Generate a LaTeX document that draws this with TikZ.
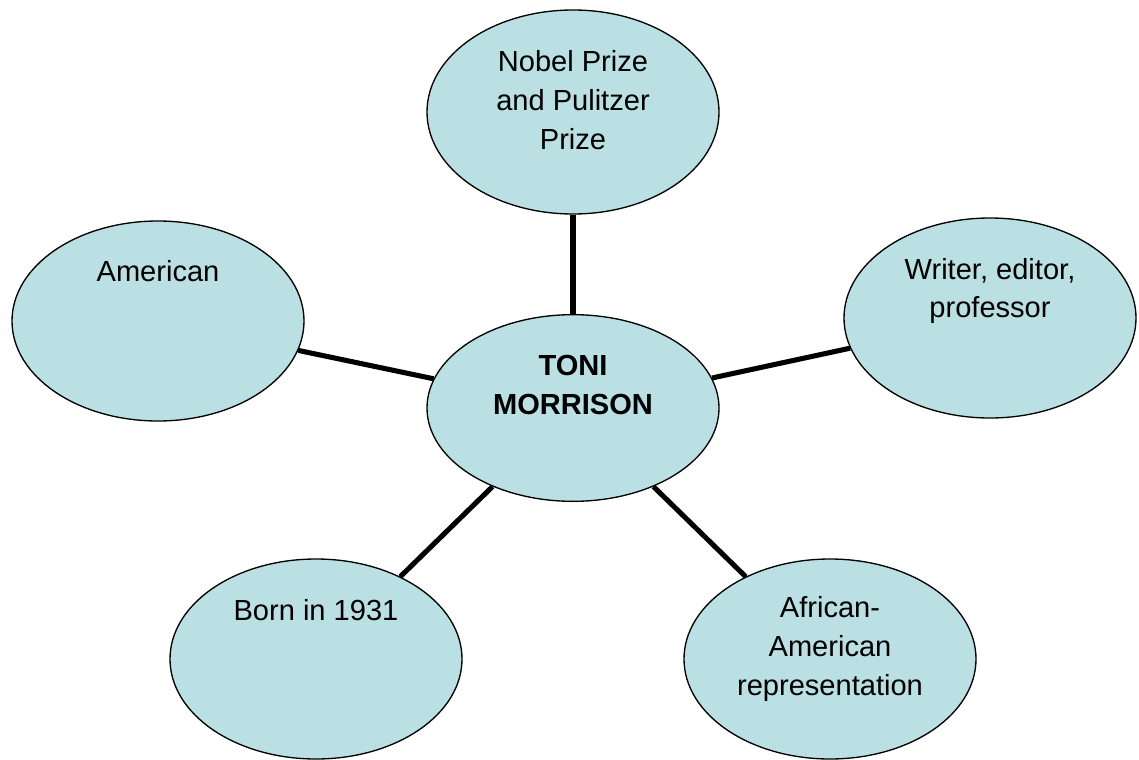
\documentclass[tikz,border=0pt]{standalone}
\usepackage{fontspec}
\setmainfont{Liberation Sans}
\usetikzlibrary{shapes.geometric}
\definecolor{bubble}{RGB}{187,224,227}
\tikzset{
  bubble/.style={ellipse, draw=black, line width=1pt, fill=bubble, inner sep=0pt, minimum width=219pt, minimum height=150pt},
  txt/.style={align=center, font=\fontsize{21.8}{29}\selectfont, inner sep=0pt},
  link/.style={draw=black, line width=3.8pt}
}
\begin{document}
\begin{tikzpicture}[x=0.75pt,y=-0.75pt]
\useasboundingbox (0,0) rectangle (1139,760);
% ellipses
\node[bubble, minimum height=153pt] (top) at (573,112) {};
\node[bubble, minimum height=140pt] (ctr) at (573,408) {};
\node[bubble] (amer) at (158,321) {};
\node[bubble] (writ) at (990,318) {};
\node[bubble] (born) at (316,659) {};
\node[bubble] (afr) at (830,659) {};
% connectors
\draw[link] (top) -- (ctr);
\draw[link] (amer) -- (ctr);
\draw[link] (writ) -- (ctr);
\draw[link] (born) -- (ctr);
\draw[link] (afr) -- (ctr);
% texts
\node[txt] (topT) at (573,100) {Nobel Prize\\and Pulitzer\\Prize};
\node[txt, font=\fontsize{21.8}{29}\selectfont\bfseries] (ctrT) at (573,385) {TONI\\MORRISON};
\node[txt] (amerT) at (158,271) {American};
\node[txt] (writT) at (990,291) {Writer, editor,\\professor};
\node[txt] (bornT) at (316,610) {Born in 1931};
\node[txt] (afrT) at (830,649) {African-\\American\\representation};
\end{tikzpicture}
\end{document}
